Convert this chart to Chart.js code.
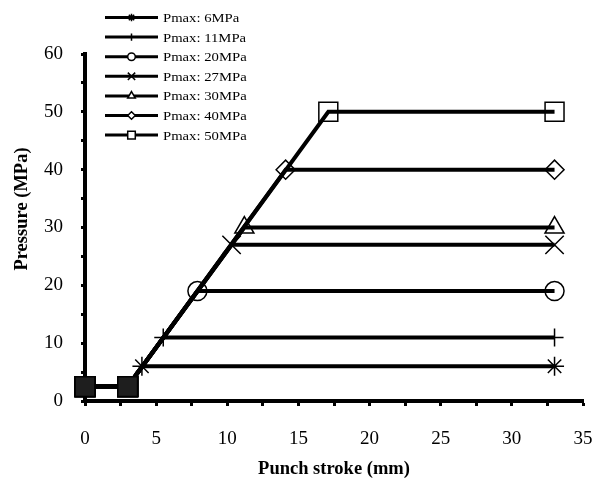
<!DOCTYPE html>
<html>
<head>
<meta charset="utf-8">
<script src="https://cdn.jsdelivr.net/npm/chart.js@4.4.0/dist/chart.umd.min.js"></script>
<style>
html,body{margin:0;padding:0;background:#fff;}
#wrap{width:594px;height:488px;position:relative;}
</style>
</head>
<body>
<div id="wrap"><canvas id="c" width="594" height="488"></canvas></div>
<script>
// Data
const seriesLabels = ['Pmax: 6MPa','Pmax: 11MPa','Pmax: 20MPa','Pmax: 27MPa','Pmax: 30MPa','Pmax: 40MPa','Pmax: 50MPa'];
const startStroke = [0, 3];          // mm
const startPressure = 2.5;           // MPa
const rampStroke = [4.0, 5.5, 7.9, 10.3, 11.2, 14.1, 17.1]; // mm where each curve reaches its Pmax
const pmaxValues = [6, 11, 19, 27, 30, 40, 50];              // MPa plateau
const endStroke = 33;                // mm
const markerStyles = ['star','cross','circle','crossRot','triangle','rectRot','rect'];
const markerRadius = [9.5, 9, 9.5, 13, 11, 9.5, 13.4];
const xTicks = [0,5,10,15,20,25,30,35];
const yTicks = [0,10,20,30,40,50,60];

const FONT = '"Liberation Serif", "Times New Roman", serif';

const datasets = seriesLabels.map((lab, i) => ({
  label: lab,
  data: [
    {x: startStroke[0], y: startPressure},
    {x: startStroke[1], y: startPressure},
    {x: rampStroke[i], y: pmaxValues[i]},
    {x: endStroke, y: pmaxValues[i]}
  ],
  borderColor: '#000',
  borderWidth: 4,
  pointStyle: (ctx) => ctx.dataIndex < 2 ? 'rect' : markerStyles[i],
  pointRadius: (ctx) => ctx.dataIndex < 2 ? 14 : markerRadius[i],
  pointBorderWidth: 1.5,
  pointBorderColor: '#000',
  pointBackgroundColor: (ctx) => ctx.dataIndex < 2 ? '#1e1e1e' : 'rgba(0,0,0,0)',
  tension: 0,
  fill: false,
  clip: false
}));

const overlayPlugin = {
  id: 'overlay',
  afterDraw(chart) {
    const ctx = chart.ctx;
    ctx.save();
    // legend
    const x0 = 105, x1 = 158, tx = 163, y0 = 17.5, dy = 19.6;
    seriesLabels.forEach((lab, i) => {
      const y = y0 + i * dy;
      ctx.strokeStyle = '#000';
      ctx.lineWidth = 3;
      ctx.beginPath();
      ctx.moveTo(x0, y); ctx.lineTo(x1, y); ctx.stroke();
      ctx.fillStyle = '#fff';
      ctx.strokeStyle = '#000';
      ctx.lineWidth = 1.5;
      Chart.helpers.drawPoint(ctx, {pointStyle: markerStyles[i], radius: markerRadius[i] * 0.4, borderWidth: 1.5}, (x0 + x1) / 2, y);
      ctx.save();
      ctx.fillStyle = '#000';
      ctx.font = '13px ' + FONT;
      ctx.textBaseline = 'middle';
      ctx.textAlign = 'left';
      ctx.translate(tx, y + 1);
      ctx.scale(1.13, 1);
      ctx.fillText(lab, 0, 0);
      ctx.restore();
    });
    // y axis title
    ctx.save();
    ctx.translate(22, 209);
    ctx.rotate(-Math.PI / 2);
    ctx.fillStyle = '#000';
    ctx.font = 'bold 18.5px ' + FONT;
    ctx.textAlign = 'center';
    ctx.textBaseline = 'middle';
    ctx.fillText('Pressure (MPa)', 0, 0);
    ctx.restore();
    ctx.restore();
  }
};

new Chart(document.getElementById('c'), {
  type: 'line',
  data: { datasets },
  plugins: [overlayPlugin],
  options: {
    responsive: false,
    animation: false,
    devicePixelRatio: 1,
    layout: { autoPadding: false, padding: { top: 54, right: 11, left: 0, bottom: 0 } },
    plugins: { legend: { display: false }, tooltip: { enabled: false } },
    scales: {
      x: {
        type: 'linear', min: 0, max: 35,
        afterFit(s) { s.height = 87; s.paddingRight = 0; s.paddingLeft = 0; },
        afterBuildTicks(s) { const t = []; for (let v = 0; v <= 35; v += 2.5) t.push({value: v}); s.ticks = t; },
        ticks: {
          autoSkip: false, maxRotation: 0,
          color: '#000', font: { family: FONT, size: 19 }, padding: 22,
          callback: (v) => xTicks.includes(v) ? String(v) : ''
        },
        grid: { drawOnChartArea: false, drawTicks: true, tickLength: 5, tickWidth: 3, color: '#000' },
        border: { display: true, width: 4, color: '#000' },
        title: { display: true, text: 'Punch stroke (mm)', color: '#000', font: { family: FONT, size: 18.5, weight: 'bold' }, padding: { top: 6, bottom: 8 } }
      },
      y: {
        type: 'linear', min: 0, max: 60,
        afterFit(s) { s.width = 85; s.paddingTop = 0; s.paddingBottom = 0; },
        afterBuildTicks(s) { const t = []; for (let v = 0; v <= 60; v += 5) t.push({value: v}); s.ticks = t; },
        ticks: {
          autoSkip: false, color: '#000', font: { family: FONT, size: 19 }, padding: 18,
          callback: (v) => yTicks.includes(v) ? String(v) : ''
        },
        grid: { drawOnChartArea: false, drawTicks: true, tickLength: 4, tickWidth: 3, color: '#000' },
        border: { display: true, width: 4, color: '#000' },
        title: { display: false }
      }
    }
  }
});
</script>
</body>
</html>
